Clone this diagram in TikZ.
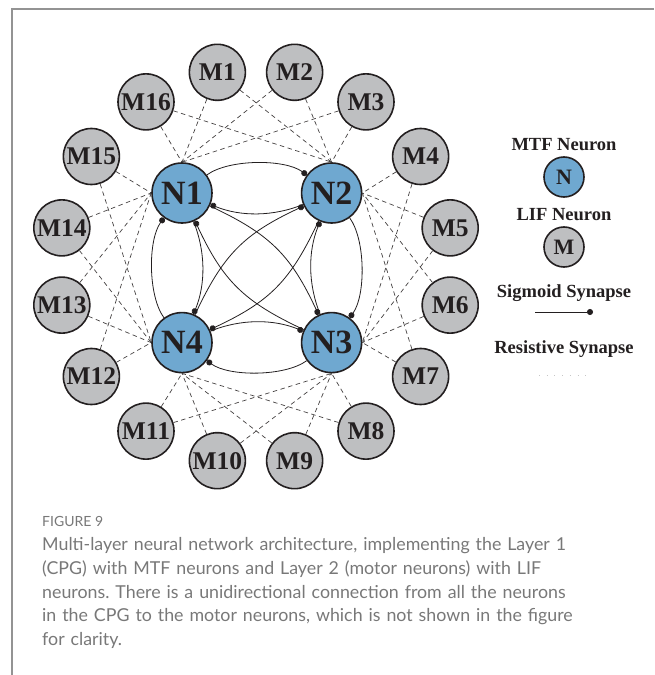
\documentclass[tikz,border=0pt]{standalone}
\usepackage{fontspec}
\newfontfamily\capfont{Lato}
\newfontfamily\labfont{Liberation Serif}
\usetikzlibrary{positioning, arrows.meta}

\definecolor{mtfblue}{RGB}{111,168,208}
\definecolor{lifgray}{RGB}{190,191,193}
\definecolor{inkblack}{RGB}{35,31,32}
\definecolor{capgray}{RGB}{120,120,120}
\frenchspacing

\begin{document}
\begin{tikzpicture}[x=1pt, y=1pt,
    mtf/.style={circle, draw=inkblack, fill=mtfblue, line width=1.6pt, minimum size=60pt, inner sep=0pt, text=inkblack, font=\labfont\fontsize{34}{34}\selectfont\bfseries},
    lif/.style={circle, draw=inkblack, fill=lifgray, line width=1.6pt, minimum size=56pt, inner sep=0pt, text=inkblack, font=\labfont\fontsize{25.5}{25.5}\selectfont\bfseries},
    sig/.style={-{Circle[length=6pt]}, line width=0.8pt, draw=inkblack},
    res/.style={dash pattern=on 4.5pt off 3.5pt, line width=0.7pt, draw=inkblack!85},
    outer/.style={sig, bend left=36, looseness=0.7},
    inner/.style={sig, bend left=22, looseness=0.9},
    cross/.style={sig, bend left=20, looseness=1.1},
    lgd/.style={text=inkblack, font=\labfont\fontsize{18.5}{18.5}\selectfont\bfseries}
  ]
  \useasboundingbox (-256,-408.5) rectangle (398,266.5);

  % frame
  \draw[capgray!80, line width=1.2pt] (398,257.5) -- (-244,257.5) -- (-244,-408.5);

  % layer 1 (CPG)
  \node[mtf] (N1) at (-74,73.5) {N1};
  \node[mtf, right=88pt of N1] (N2) {N2};
  \node[mtf, below=88pt of N2] (N3) {N3};
  \node[mtf, left=88pt of N3] (N4) {N4};

  % layer 2 (motor neurons)
  \foreach \k in {1,...,16}
    \node[lif] (M\k) at ({101.25-(\k-1)*22.5}:198) {M\k};

  % resistive synapses
  \foreach \k in {16,1,2,3} {
    \draw[res] (M\k) -- (N1.north);
    \draw[res] (M\k) -- (N2.north);
  }
  \foreach \k in {4,...,7} {
    \draw[res] (M\k) -- (N2.east);
    \draw[res] (M\k) -- (N3.east);
  }
  \foreach \k in {8,...,11} {
    \draw[res] (M\k) -- (N3.south);
    \draw[res] (M\k) -- (N4.south);
  }
  \foreach \k in {12,...,15} {
    \draw[res] (M\k) -- (N4.west);
    \draw[res] (M\k) -- (N1.west);
  }

  % sigmoid synapses
  \draw[outer] (N1) to (N2);
  \draw[outer] (N2) to (N3);
  \draw[outer] (N3) to (N4);
  \draw[outer] (N4) to (N1);
  \draw[inner] (N2) to (N1);
  \draw[inner] (N3) to (N2);
  \draw[inner] (N4) to (N3);
  \draw[inner] (N1) to (N4);
  \draw[cross] (N1) to (N3);
  \draw[cross] (N3) to (N1);
  \draw[cross] (N2) to (N4);
  \draw[cross] (N4) to (N2);

  % legend
  \node[lgd] (mtfhd) at (308,121.5) {MTF Neuron};
  \node[mtf, minimum size=40pt, font=\labfont\fontsize{22}{22}\selectfont\bfseries] (mtfkey) at (308,89.5) {N};
  \node[lgd] (lifhd) at (308,51.5) {LIF Neuron};
  \node[lif, minimum size=40pt, font=\labfont\fontsize{22}{22}\selectfont\bfseries] (lifkey) at (308,19.5) {M};
  \node[lgd] (sighd) at (308,-26.5) {Sigmoid Synapse};
  \coordinate (sigA) at (279,-45.5);
  \coordinate (sigB) at (337,-45.5);
  \draw[sig] (sigA) -- (sigB);
  \node[lgd] (reshd) at (308,-82.5) {Resistive Synapse};
  \coordinate (resA) at (283,-108.5);
  \coordinate (resB) at (330,-108.5);
  \draw[gray!45, line width=1pt, dash pattern=on 0.8pt off 6.9pt] (resA) -- (resB);

  % caption
  \node[anchor=west, inner sep=0pt, text=capgray, font=\capfont\fontsize{14}{14}\selectfont] (fig) at (-214,-254.5) {FIGURE 9};
  \node[anchor=north west, inner sep=0pt, text width=610pt, align=left, text=capgray, font=\capfont\fontsize{17.8}{23.7}\selectfont] (cap) at (-214,-271) {Multi-layer neural network architecture, implementing the Layer 1\\
(CPG) with MTF neurons and Layer 2 (motor neurons) with LIF\\
neurons. There is a unidirectional connection from all the neurons\\
in the CPG to the motor neurons, which is not shown in the figure\\
for clarity.};
\end{tikzpicture}
\end{document}
